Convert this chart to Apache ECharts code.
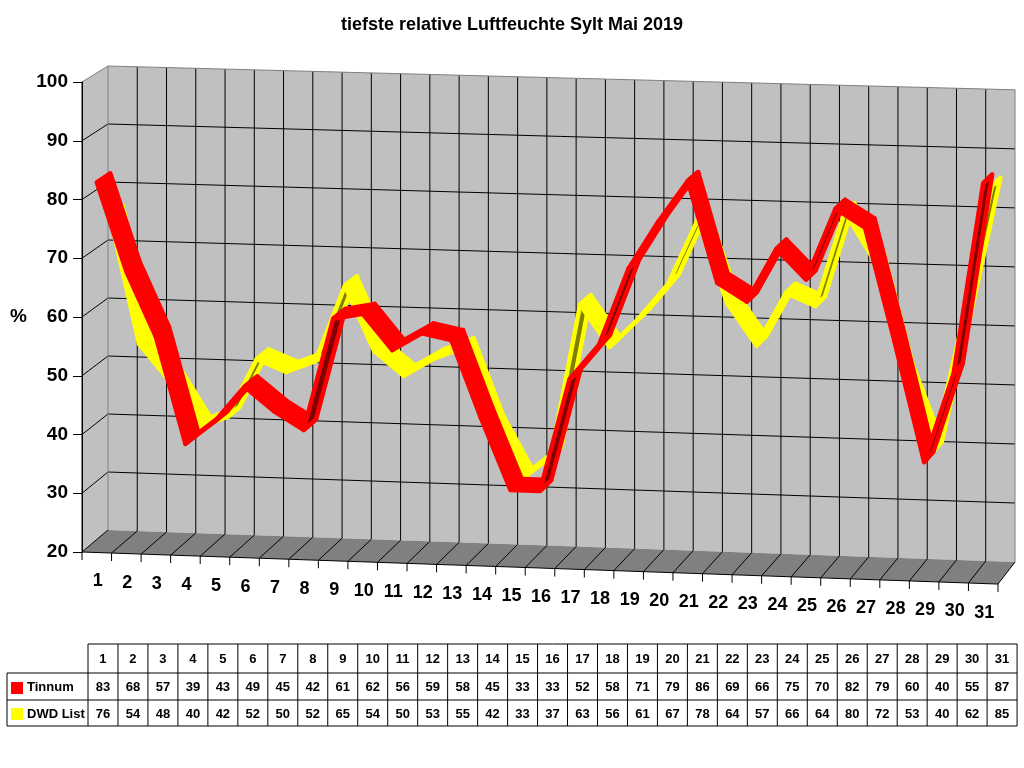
<!DOCTYPE html>
<html>
<head>
<meta charset="utf-8">
<title>tiefste relative Luftfeuchte Sylt Mai 2019</title>
<script src="https://cdn.jsdelivr.net/npm/echarts/dist/echarts.min.js"></script>
<style>
    html, body { margin: 0; padding: 0; background: #fff; }
    #chart { width: 1024px; height: 768px; }
</style>
</head>
<body>
<div id="chart"></div>
<script>
var days = ['1','2','3','4','5','6','7','8','9','10','11','12','13','14','15','16',
    '17','18','19','20','21','22','23','24','25','26','27','28','29','30','31'];
var tinnum = [83,68,57,39,43,49,45,42,61,62,56,59,58,45,33,33,52,58,71,79,86,69,66,75,70,82,79,60,40,55,87];
var dwdList = [76,54,48,40,42,52,50,52,65,54,50,53,55,42,33,37,63,56,61,67,78,64,57,66,64,80,72,53,40,62,85];
var yMin = 20, yMax = 100, yStep = 10;

var FONT = 'Liberation Sans, Arial, sans-serif';

// one item per segment: [day index, value, next value]
function segments(vals) {
    var out = [];
    for (var i = 0; i < vals.length - 1; i++) {
        out.push([i, vals[i], vals[i + 1]]);
    }
    return out;
}

// front plane comes from the axes, then tilt + depth for the fake 3d box
function makeProj(api) {
    var bw = api.size([1, 0])[0];
    var left = api.coord([0, yMin])[0] - bw / 2;
    var width = bw * days.length;
    return function (c, v, z) {
        var k = Math.max(0, Math.min(days.length - 1, Math.round(c)));
        var pt = api.coord([k, v]);
        var x = pt[0] + (c - k) * bw;
        var y = pt[1];
        var f = (v - yMin) / (yMax - yMin);
        var t = (x - left) / width;
        y += (0.035 - 0.009 * f) * (x - left);
        x += z * (26 - 9 * t);
        y -= z * (22 - 6 * f);
        return [x, y];
    };
}

function txt(x, y, s, size, align) {
    return {
        type: 'text', x: x, y: y,
        style: {
            text: s, fill: '#000', fontSize: size, fontWeight: 'bold', fontFamily: FONT,
            align: align || 'center', textAlign: align || 'center',
            verticalAlign: 'middle', textVerticalAlign: 'middle'
        }
    };
}

function renderBox(params, api) {
    var p = makeProj(api);
    var n = days.length;
    var L = -0.5, R = n - 0.5;
    var kids = [];
    function poly(pts, fill) {
        kids.push({type: 'polygon', shape: {points: pts}, style: {fill: fill}});
    }
    function seg(a, b, color) {
        kids.push({type: 'line', shape: {x1: a[0], y1: a[1], x2: b[0], y2: b[1]},
            style: {stroke: color, lineWidth: 1}});
    }
    poly([p(L, yMin, 0), p(L, yMax, 0), p(L, yMax, 1), p(L, yMin, 1)], '#C0C0C0');
    poly([p(L, yMin, 1), p(R, yMin, 1), p(R, yMax, 1), p(L, yMax, 1)], '#C0C0C0');
    poly([p(L, yMin, 0), p(R, yMin, 0), p(R, yMin, 1), p(L, yMin, 1)], '#808080');

    var k, v;
    for (k = 1; k < n; k++) {
        seg(p(L + k, yMin, 1), p(L + k, yMax, 1), '#000');
    }
    for (v = yMin + yStep; v < yMax; v += yStep) {
        seg(p(L, v, 0), p(L, v, 1), '#000');
        seg(p(L, v, 1), p(R, v, 1), '#000');
    }
    seg(p(L, yMax, 0), p(L, yMax, 1), '#808080');
    seg(p(L, yMax, 1), p(R, yMax, 1), '#808080');
    seg(p(L, yMin, 1), p(L, yMax, 1), '#808080');
    seg(p(R, yMin, 1), p(R, yMax, 1), '#808080');

    for (k = 0; k <= n; k++) {
        var a = p(L + k, yMin, 0);
        seg(a, p(L + k, yMin, 1), '#000');
        seg(a, [a[0], a[1] + 8], '#000');
    }
    seg(p(L, yMin, 0), p(R, yMin, 0), '#000');
    seg(p(L, yMin, 0), p(L, yMax, 0), '#000');

    for (k = 0; k < n; k++) {
        var c = p(k, yMin, 0);
        kids.push(txt(c[0] + 1, c[1] + 29, days[k], 18));
    }
    return {type: 'group', children: kids};
}

function ribbon(color, dark, z0, z1) {
    return function (params, api) {
        var p = makeProj(api);
        var i = api.value(0);
        var v0 = api.value(1), v1 = api.value(2);
        var f0 = p(i, v0, z0), f1 = p(i + 1, v1, z0);
        var b1 = p(i + 1, v1, z1), b0 = p(i, v0, z1);
        var ax = f1[0] - f0[0], ay = f1[1] - f0[1];
        var dx = b0[0] - f0[0], dy = b0[1] - f0[1];
        // steep rise: we look at the underside of the band
        var under = ax * dy - ay * dx > 0;
        return {
            type: 'polygon',
            shape: {points: [f0, f1, b1, b0]},
            style: {fill: under ? dark : color, stroke: color, lineWidth: 4.5, lineJoin: 'round'}
        };
    };
}

// data table under the chart
function buildTable() {
    var els = [];
    var x0 = 88, cw = 29.97, n = days.length, x1 = x0 + cw * n;
    var rows = [644, 673, 700, 726];
    function line(xa, ya, xb, yb) {
        els.push({type: 'line', shape: {x1: xa, y1: ya, x2: xb, y2: yb},
            style: {stroke: '#000', lineWidth: 1}});
    }
    line(x0, rows[0], x1, rows[0]);
    line(7, rows[1], x1, rows[1]);
    line(7, rows[2], x1, rows[2]);
    line(7, rows[3], x1, rows[3]);
    line(7, rows[1], 7, rows[3]);
    for (var k = 0; k <= n; k++) {
        line(x0 + cw * k, rows[0], x0 + cw * k, rows[3]);
    }
    for (var i = 0; i < n; i++) {
        var cx = x0 + cw * (i + 0.5);
        els.push(txt(cx, (rows[0] + rows[1]) / 2 + 1, days[i], 13));
        els.push(txt(cx, (rows[1] + rows[2]) / 2 + 1, String(tinnum[i]), 13));
        els.push(txt(cx, (rows[2] + rows[3]) / 2 + 1, String(dwdList[i]), 13));
    }
    els.push({type: 'rect', shape: {x: 11, y: 682, width: 12, height: 12}, style: {fill: '#FF0000'}});
    els.push({type: 'rect', shape: {x: 11, y: 708, width: 12, height: 12}, style: {fill: '#FFFF00'}});
    els.push(txt(27, (rows[1] + rows[2]) / 2 + 1, 'Tinnum', 13, 'left'));
    els.push(txt(27, (rows[2] + rows[3]) / 2 + 1, 'DWD List', 13, 'left'));
    return els;
}

var myChart = echarts.init(document.getElementById('chart'));
var option = {
    backgroundColor: '#fff',
    animation: false,
    title: {
        text: 'tiefste relative Luftfeuchte Sylt Mai 2019',
        left: 'center', top: 11,
        textStyle: {fontSize: 18, fontWeight: 'bold', color: '#000', fontFamily: FONT}
    },
    grid: {left: 82, right: 26, top: 82, bottom: 216},
    xAxis: {
        type: 'category', data: days, show: false
    },
    yAxis: {
        type: 'value', min: yMin, max: yMax, interval: yStep, z: 10,
        name: '%', nameLocation: 'middle', nameRotate: 0, nameGap: 55,
        nameTextStyle: {fontSize: 19, fontWeight: 'bold', color: '#000', fontFamily: FONT},
        axisLine: {show: true, lineStyle: {color: '#000', width: 1}},
        axisTick: {show: true, length: 9, lineStyle: {color: '#000'}},
        axisLabel: {fontSize: 19, fontWeight: 'bold', color: '#000', fontFamily: FONT, margin: 14},
        splitLine: {show: false}
    },
    graphic: buildTable(),
    series: [
        {type: 'custom', name: 'box', data: [[0, yMin]], renderItem: renderBox, clip: false, z: 1, silent: true},
        {type: 'custom', name: 'DWD List', data: segments(dwdList), encode: {x: 0, y: 1},
            renderItem: ribbon('#FFFF00', '#808000', 0.5, 1.0), clip: false, z: 3},
        {type: 'custom', name: 'Tinnum', data: segments(tinnum), encode: {x: 0, y: 1},
            renderItem: ribbon('#FF0000', '#800000', 0.0, 0.52), clip: false, z: 4}
    ]
};
myChart.setOption(option);
</script>
</body>
</html>
